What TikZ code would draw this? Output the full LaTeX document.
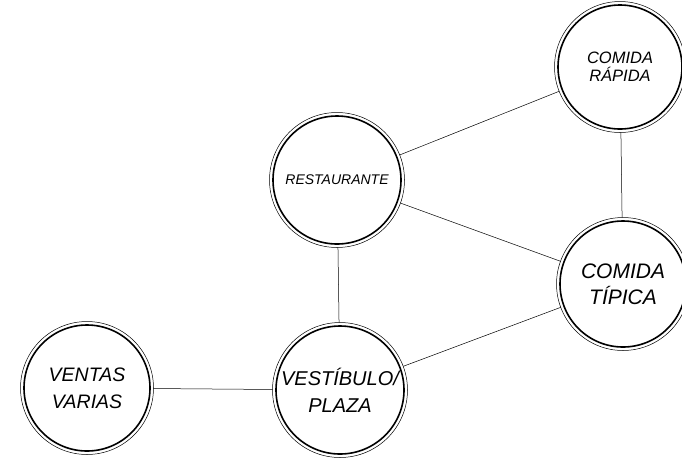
\documentclass[tikz,border=0pt]{standalone}
\usepackage{fontspec}
\setmainfont{Liberation Sans}
\begin{document}
\begin{tikzpicture}[x=1pt,y=-1pt,
  bub/.style={circle,draw,line width=1.6pt,inner sep=0pt,outer sep=3.5pt,align=center,font=\itshape},
  ring/.style={line width=0.5pt},
  link/.style={line width=0.5pt}]
\useasboundingbox (0,0) rectangle (682,459);
\node[bub,minimum size=124pt,font=\itshape\fontsize{16.5}{18}\selectfont] (rap) at (620,67) {COMIDA\\RÁPIDA};
\node[bub,minimum size=128pt,font=\itshape\fontsize{14}{15}\selectfont] (res) at (337,180) {RESTAURANTE};
\node[bub,minimum size=126pt,font=\itshape\fontsize{21}{26}\selectfont] (tip) at (623,284) {COMIDA\\TÍPICA};
\node[bub,minimum size=128pt,font=\itshape\fontsize{20}{27}\selectfont] (ves) at (340,390) {VESTÍBULO/\\PLAZA};
\node[bub,minimum size=126pt,font=\itshape\fontsize{19.5}{27}\selectfont] (ven) at (87,388) {VENTAS\\VARIAS};
\foreach \n/\r in {rap/65.5,res/67.5,tip/66.5,ves/67.5,ven/66.5}
  \draw[ring] (\n.center) circle (\r);
\draw[link] (res) -- (rap);
\draw[link] (res) -- (tip);
\draw[link] (rap) -- (tip);
\draw[link] (res) -- (ves);
\draw[link] (ves) -- (tip);
\draw[link] (ven) -- (ves);
\end{tikzpicture}
\end{document}
